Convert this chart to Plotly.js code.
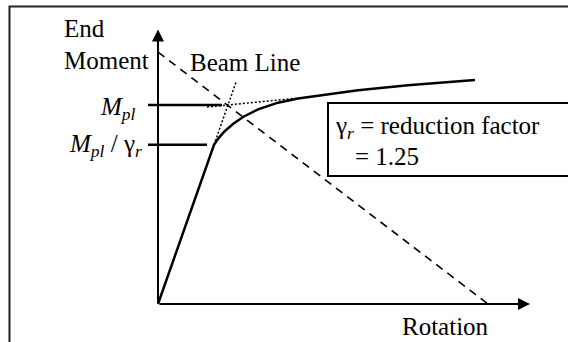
<!DOCTYPE html>
<html>
<head>
<meta charset="utf-8">
<script src="https://cdn.plot.ly/plotly-3.0.1.min.js"></script>
<style>
  html, body { margin: 0; padding: 0; background: #fff; }
  #chart { width: 568px; height: 342px; }
</style>
</head>
<body>
<div id="chart"></div>
<script>
// moment-rotation curve (moment in units of Mpl)
const rotation = [0, 0.56, 0.60, 0.66, 0.75, 0.85, 1.0, 1.2, 1.4, 1.6, 2.0, 2.5, 3.17];
const moment   = [0, 0.80, 0.83, 0.865, 0.905, 0.94, 0.978, 1.012, 1.033, 1.047, 1.074, 1.10, 1.126];

// beam line
const beamRot = [0, 3.30];
const beamMom = [1.266, 0];

// dotted construction lines
const elasticRot = [0.56, 0.78];
const elasticMom = [0.80, 1.115];
const plasticRot = [0.49, 1.45];
const plasticMom = [0.99, 1.0375];

// reference levels
const gammaR = 1.25;
const mplRot = [-0.10, 0.64];
const mplMom = [1, 1];
const mredRot = [-0.10, 0.49];
const mredMom = [1 / gammaR, 1 / gammaR];

// axis extents
const axisRotEnd = 3.72;
const axisMomEnd = 1.38;

const font = { family: "'Liberation Serif', 'Times New Roman', serif", size: 25, color: '#000' };

const line = (x, y, width, dash) => ({
  x: x, y: y, type: 'scatter', mode: 'lines', hoverinfo: 'skip',
  line: { color: '#000', width: width, dash: dash || 'solid' }
});

const data = [
  line(beamRot, beamMom, 1.6, '8px,6px'),
  line(elasticRot, elasticMom, 1.5, '2px,2px'),
  line(plasticRot, plasticMom, 1.5, '2px,2px'),
  line(mplRot, mplMom, 2.5),
  line(mredRot, mredMom, 2.5),
  line(rotation, moment, 2.5)
];

const arrow = (x, y) => ({
  x: x, y: y, ax: 0, ay: 0, xref: 'x', yref: 'y', axref: 'x', ayref: 'y',
  text: '', showarrow: true, arrowhead: 2, arrowsize: 1.2, arrowwidth: 2, arrowcolor: '#000'
});

const label = (text, x, y, xanchor) => ({
  text: text, x: x, y: y, xref: 'x', yref: 'y', showarrow: false,
  xanchor: xanchor || 'left', yanchor: 'middle', align: xanchor || 'left', font: font
});

const layout = {
  width: 568, height: 342,
  margin: { l: 0, r: 0, t: 0, b: 0 },
  paper_bgcolor: '#fff', plot_bgcolor: '#fff',
  showlegend: false,
  font: font,
  xaxis: { range: [-1.58, 4.10], visible: false, fixedrange: true },
  yaxis: { range: [-0.191, 1.528], visible: false, fixedrange: true },
  shapes: [
    { type: 'path', xref: 'paper', yref: 'paper',
      path: 'M 0.0167,-0.2 L 0.0167,0.981 L 1.2,0.981',
      line: { color: '#222', width: 2 } },
    { type: 'rect', xref: 'x', yref: 'y', x0: 1.70, x1: 4.6, y0: 0.643, y1: 1.01,
      fillcolor: '#fff', line: { color: '#000', width: 2 } }
  ],
  annotations: [
    arrow(axisRotEnd, 0),
    arrow(0, axisMomEnd),
    label('End', -0.96, 1.387),
    label('Moment', -0.96, 1.224),
    label('Beam Line', 0.30, 1.216),
    label('<i>M<sub>pl</sub></i>', -0.20, 0.985, 'right'),
    label('<i>M<sub>pl</sub></i> / γ<sub><i>r</i></sub>', -0.14, 0.795, 'right'),
    label('γ<sub><i>r</i></sub> = reduction factor', 1.75, 0.885),
    label('= 1.25', 1.95, 0.739),
    label('Rotation', 2.42, -0.113)
  ]
};

Plotly.newPlot('chart', data, layout, { displayModeBar: false, staticPlot: true });
</script>
</body>
</html>
